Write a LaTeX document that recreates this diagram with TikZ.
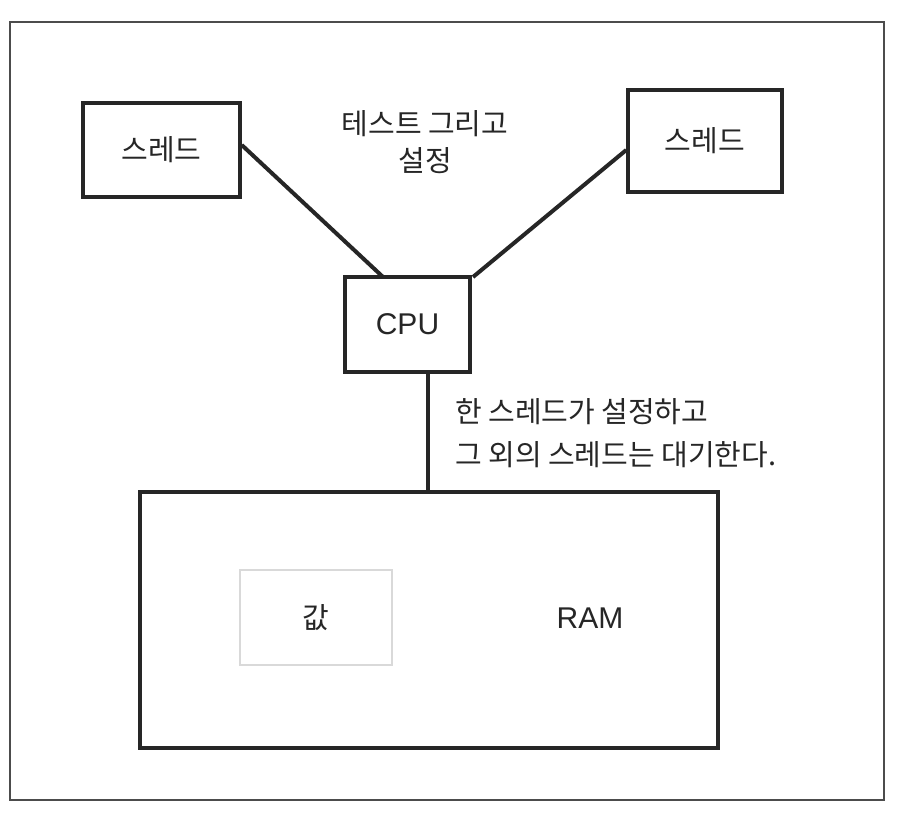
\documentclass[tikz,border=0pt]{standalone}
\usepackage{fontspec}
\setmainfont{Noto Sans CJK KR}
\newfontfamily\latinsans{Liberation Sans}
\begin{document}
\begin{tikzpicture}[x=1pt,y=-1pt,
  box/.style={draw=black!85, line width=3.5pt, inner sep=0pt},
  wire/.style={draw=black!85, line width=4pt},
  lbl/.style={font=\fontsize{29pt}{37pt}\selectfont, text=black!85, inner sep=0pt},
  lat/.style={font=\latinsans\fontsize{30pt}{36pt}\selectfont, text=black!85, inner sep=0pt}]
\useasboundingbox (0,0) rectangle (904,829);
\fill[white] (0,0) rectangle (904,829);
\draw[black!70, line width=1.5pt] (10,22) rectangle (884,800);
% boxes
\node[box, minimum width=157pt, minimum height=94pt, lbl] (t1) at (161.5,150) {스레드};
\node[box, minimum width=154pt, minimum height=102pt, lbl] (t2) at (705,141) {스레드};
\node[box, minimum width=125pt, minimum height=95pt, lat] (cpu) at (407.5,324.5) {CPU};
\node[draw=black!85, line width=4.5pt, minimum width=578pt, minimum height=256pt] (ram) at (429,620) {};
\node[draw=black!15, line width=1.5pt, minimum width=152pt, minimum height=95pt, lbl] (val) at (316,617.5) {값};
\node[lat] (ramlbl) at (590,618) {RAM};
\node[lbl, align=center] (test) at (425,142) {테스트 그리고\\설정};
\node[lbl, font=\fontsize{29pt}{43pt}\selectfont, align=left, anchor=west] (note) at (455,433) {한 스레드가 설정하고\\그 외의 스레드는 대기한다.};
% connectors
\coordinate (c1) at (383,277);
\coordinate (c2) at (473,277);
\draw[wire] (t1.east |- 0,145) -- (c1);
\draw[wire] (t2.west |- 0,150) -- (c2);
\draw[wire] (cpu.south -| 428,0) -- (ram.north -| 428,0);
\end{tikzpicture}
\end{document}
